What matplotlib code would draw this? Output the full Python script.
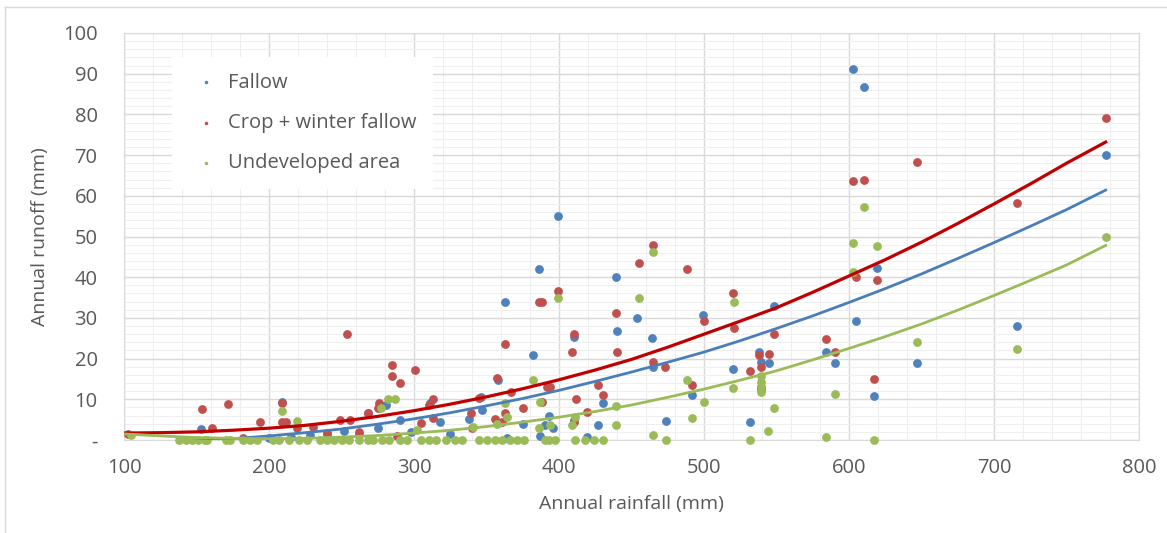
import matplotlib
matplotlib.use("Agg")
import matplotlib.pyplot as plt
from matplotlib.lines import Line2D
from matplotlib.ticker import MultipleLocator, FuncFormatter

# --- data ---
fallow_x = [153, 209, 200, 215, 228, 240, 252, 262, 268, 275, 281, 290, 298, 311, 318, 325,
            338, 347, 346, 358, 363, 364, 375, 382, 386, 387, 390, 393, 396, 399, 410, 410,
            419, 427, 430, 439, 440, 454, 464, 465, 474, 492, 499, 520, 532, 538, 539, 539,
            545, 548, 584, 590, 603, 605, 610, 617, 619, 647, 716, 777]
fallow_y = [2.6, 9.3, 0.5, 0.8, 1.2, 1.5, 2.2, 1.5, 6.7, 3.0, 8.6, 4.9, 2.0, 9.0, 4.5, 1.5,
            5.1, 7.4, 10.6, 14.7, 34, 0.4, 3.9, 20.9, 42, 1.0, 3.7, 6.0, 2.9, 55, 25.3, 4.9,
            0.8, 3.7, 9.0, 40, 26.8, 30, 25, 18, 4.7, 11, 30.7, 17.4, 4.3, 21.7, 19.2, 12.3,
            18.8, 33, 21.7, 18.8, 91.2, 29.2, 86.8, 10.9, 42.3, 18.8, 28, 70]

crop_x = [103, 154, 161, 172, 182, 194, 209, 209, 212, 219, 230, 240, 249, 254, 256, 262,
          268, 275, 276, 285, 285, 290, 288, 301, 305, 310, 313, 313, 339, 340, 345, 356,
          357, 361, 363, 363, 367, 375, 386, 388, 388, 392, 394, 399, 409, 410, 410, 412,
          419, 427, 430, 439, 440, 455, 465, 465, 473, 488, 492, 500, 520, 521, 532, 538,
          539, 539, 545, 548, 584, 590, 603, 605, 610, 617, 619, 647, 716, 777]
crop_y = [1.5, 7.6, 2.9, 8.8, 0.5, 4.3, 9.0, 4.3, 4.3, 2.9, 3.3, 1.8, 4.9, 26, 4.9, 2.0,
          6.6, 7.9, 9.1, 15.7, 18.4, 13.9, 1.0, 17.2, 4.2, 8.6, 10, 5.4, 6.6, 2.9, 10.3, 5.2,
          15.2, 4.5, 23.6, 6.6, 11.9, 7.9, 33.9, 33.9, 9.4, 13.1, 13.1, 36.6, 21.6, 26, 4.4, 10.1,
          6.8, 13.5, 11, 31.2, 21.5, 43.5, 47.9, 19.2, 18, 42, 13.5, 29.2, 36, 27.4, 17, 20.9,
          18, 12.9, 21.1, 26, 24.7, 21.5, 63.6, 40, 64, 14.9, 39.2, 68.4, 58.3, 79.1]

undev_zero_x = [138, 143, 147, 151, 156, 157, 170, 173, 182, 187, 192, 203, 207, 214, 221,
                226, 235, 240, 245, 250, 255, 262, 268, 272, 278, 283, 290, 295, 305, 310,
                315, 322, 328, 333, 345, 350, 356, 361, 366, 371, 376, 390, 393, 397, 411,
                418, 424, 430, 474, 532, 617]
undev_x = [105, 209, 219, 277, 282, 287, 302, 341, 357, 363, 364, 382, 386, 387, 394, 399,
           409, 411, 439, 439, 455, 465, 465, 488, 492, 500, 520, 521, 539, 539, 539, 539,
           544, 548, 584, 590, 603, 603, 610, 619, 647, 716, 777]
undev_y = [1.2, 7.1, 4.7, 7.8, 10, 10, 2.5, 3.2, 3.9, 9.0, 5.7, 14.7, 2.9, 9.4, 3.7, 34.9,
           3.7, 5.7, 3.7, 8.4, 34.9, 46.2, 1.2, 14.7, 5.4, 9.4, 12.7, 34, 15.8, 14.2, 12.9, 11.9,
           2.2, 7.9, 0.8, 11.4, 48.4, 41.3, 57.2, 47.6, 24, 22.4, 50]

# trendlines
trend_x = [100, 125, 150, 175, 200, 225, 250, 275, 300, 325, 350, 375, 400, 425, 450, 475,
           500, 525, 550, 575, 600, 625, 650, 675, 700, 725, 750, 777]
trend_crop = [1.7, 1.8, 2.0, 2.4, 2.9, 3.6, 4.6, 5.8, 7.2, 8.8, 10.6, 12.6, 14.8, 17.2, 19.8, 22.8,
              26, 29.2, 32.5, 36.3, 40.3, 44.3, 48.6, 53.2, 58, 62.9, 68, 73.2]
trend_fallow = [-0.7, -0.6, -0.3, 0.3, 1.0, 1.8, 2.7, 3.9, 5.2, 6.7, 8.4, 10.2, 12.2, 14.4, 16.7, 19.1,
                21.6, 24.4, 27.4, 30.5, 33.8, 37.2, 40.8, 44.6, 48.5, 52.5, 56.6, 61.4]
trend_undev = [1.5, 1.0, 0.6, 0.4, 0.3, 0.4, 0.7, 1.1, 1.7, 2.4, 3.3, 4.4, 5.6, 7.0, 8.6, 10.5,
               12.5, 14.7, 17, 19.7, 22.5, 25.4, 28.5, 31.9, 35.5, 39.2, 43, 47.8]

c_blue = "#4F81BD"
c_red = "#C0504D"
c_green = "#9BBB59"
text_c = "#595959"

plt.rcParams["font.family"] = ["Open Sans", "DejaVu Sans"]

fig = plt.figure(figsize=(11.67, 5.33), dpi=100)
ax = fig.add_axes([124 / 1167, 1 - 440 / 533, 1015 / 1167, 407 / 533])

ms = 40
ax.scatter(fallow_x, fallow_y, s=ms, color=c_blue, zorder=3, clip_on=False,
           linewidths=0, label="Fallow")
ax.scatter(crop_x, crop_y, s=ms, color=c_red, zorder=3, clip_on=False,
           linewidths=0, label="Crop + winter fallow")
ax.scatter(undev_zero_x, [0] * len(undev_zero_x), s=ms, color=c_green, zorder=3,
           clip_on=False, linewidths=0)
ax.scatter(undev_x, undev_y, s=ms, color=c_green, zorder=3, clip_on=False,
           linewidths=0, label="Undeveloped area")

ax.plot(trend_x, trend_fallow, color="#4A7EBB", lw=2, zorder=4)
ax.plot(trend_x, trend_crop, color="#C00000", lw=2.3, zorder=4)
ax.plot(trend_x, trend_undev, color=c_green, lw=2, zorder=4)

ax.set_xlim(100, 800)
ax.set_ylim(0, 100)
ax.xaxis.set_major_locator(MultipleLocator(100))
ax.xaxis.set_minor_locator(MultipleLocator(20))
ax.yaxis.set_major_locator(MultipleLocator(10))
ax.yaxis.set_minor_locator(MultipleLocator(2))
ax.yaxis.set_major_formatter(FuncFormatter(lambda v, p: "-" if v == 0 else f"{v:.0f}"))

ax.grid(which="major", color="#D9D9D9", lw=1)
ax.grid(which="minor", color="#EFEFEF", lw=0.8)
ax.set_axisbelow(True)
for sp in ax.spines.values():
    sp.set_color("#D9D9D9")
ax.tick_params(which="both", length=0, colors=text_c, labelsize=14.5)
ax.tick_params(axis="x", pad=13)
ax.tick_params(axis="y", pad=19)

ax.set_xlabel("Annual rainfall (mm)", color=text_c, fontsize=14, labelpad=12)
ax.set_ylabel("Annual runoff (mm)", color=text_c, fontsize=14, labelpad=10)

leg = ax.legend(loc="upper left", bbox_to_anchor=(0.047, 0.942), frameon=True,
                fancybox=False, framealpha=1, edgecolor="none", fontsize=14.5,
                labelspacing=1.0, handletextpad=0.2, markerscale=0.4,
                borderpad=0.8, borderaxespad=0, handlelength=1.8)
for t in leg.get_texts():
    t.set_color(text_c)
leg.set_zorder(5)

# chart area border
fig.add_artist(Line2D([5 / 1167, 1], [1 - 7 / 533, 1 - 7 / 533], color="#D9D9D9", lw=1))
fig.add_artist(Line2D([5 / 1167, 5 / 1167], [0, 1 - 7 / 533], color="#D9D9D9", lw=1))

fig.savefig("out.png", dpi=100)
